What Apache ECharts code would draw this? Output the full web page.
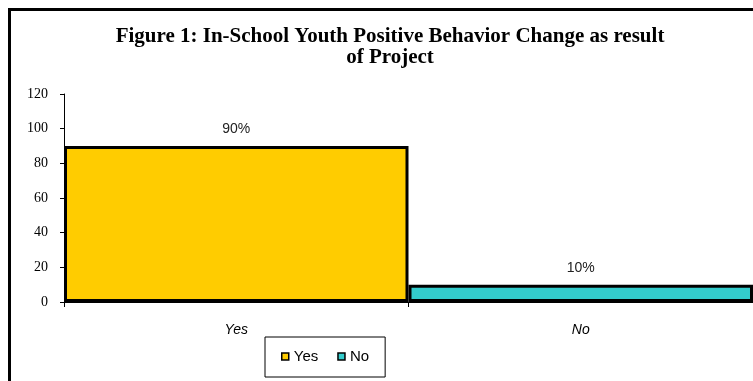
<!DOCTYPE html>
<html>
<head>
<meta charset="utf-8">
<script src="https://cdn.jsdelivr.net/npm/echarts@6/dist/echarts.min.js"></script>
<style>html,body{margin:0;padding:0;background:#fff;}#c{width:753px;height:381px;}</style>
</head>
<body>
<div id="c"></div>
<script>
const titleText = 'Figure 1: In-School Youth Positive Behavior Change as result\nof Project';
const categories = ['Yes', 'No'];
const seriesNames = ['Yes', 'No'];
const yesValues = [90, '-'];
const noValues = ['-', 10];
const valueLabels = ['90%', '10%'];
const yTicks = [0, 20, 40, 60, 80, 100, 120];

const colors = ['#FFCC00', '#33CCCC'];
const chart = echarts.init(document.getElementById('c'), null, {renderer: 'canvas'});
function lbl() {
  return {
    show: true, position: 'top', distance: 10,
    fontFamily: 'Liberation Sans', fontSize: 14, color: '#222',
    formatter: p => valueLabels[categories.indexOf(p.name)]
  };
}
chart.setOption({
  animation: false,
  backgroundColor: '#fff',
  title: {
    text: titleText,
    left: 385, top: 21, textAlign: 'center',
    textStyle: {fontFamily: 'Liberation Serif', fontWeight: 'bold', fontSize: 21, lineHeight: 21, color: '#000'}
  },
  graphic: [{
    type: 'rect', z: 100, silent: true,
    shape: {x: 9.5, y: 9.5, width: 900, height: 500},
    style: {fill: 'none', stroke: '#000', lineWidth: 3}
  }],
  legend: {
    data: seriesNames,
    left: 265, top: 337,
    padding: [12, 16, 13, 16],
    itemGap: 19, itemWidth: 7, itemHeight: 7,
    icon: 'rect',
    borderColor: '#000', borderWidth: 1,
    textStyle: {fontFamily: 'Liberation Sans', fontSize: 15, color: '#000'},
    itemStyle: {borderColor: '#000', borderWidth: 1.5}
  },
  grid: {left: 64, top: 94, width: 692, height: 208, containLabel: false},
  xAxis: {
    type: 'category', data: categories, boundaryGap: true,
    axisLine: {show: true, lineStyle: {color: '#000', width: 1}},
    axisTick: {show: true, length: 5, lineStyle: {color: '#000'}},
    axisLabel: {fontFamily: 'Liberation Sans', fontStyle: 'italic', fontSize: 14, color: '#000', margin: 21}
  },
  yAxis: {
    type: 'value', min: 0, max: 120, interval: 20,
    axisLine: {show: true, lineStyle: {color: '#000', width: 1}},
    axisTick: {show: true, length: 4, lineStyle: {color: '#000'}},
    splitLine: {show: false},
    axisLabel: {fontFamily: 'Liberation Serif', fontSize: 14, color: '#000', margin: 16,
      formatter: v => yTicks.includes(v) ? String(v) : ''}
  },
  series: [
    {name: seriesNames[0], type: 'bar', stack: 's', data: yesValues, barCategoryGap: '0%',
      itemStyle: {color: colors[0], borderColor: '#000', borderWidth: 3}, label: lbl()},
    {name: seriesNames[1], type: 'bar', stack: 's', data: noValues, barCategoryGap: '0%',
      itemStyle: {color: colors[1], borderColor: '#000', borderWidth: 3}, label: lbl()}
  ]
});
</script>
</body>
</html>
